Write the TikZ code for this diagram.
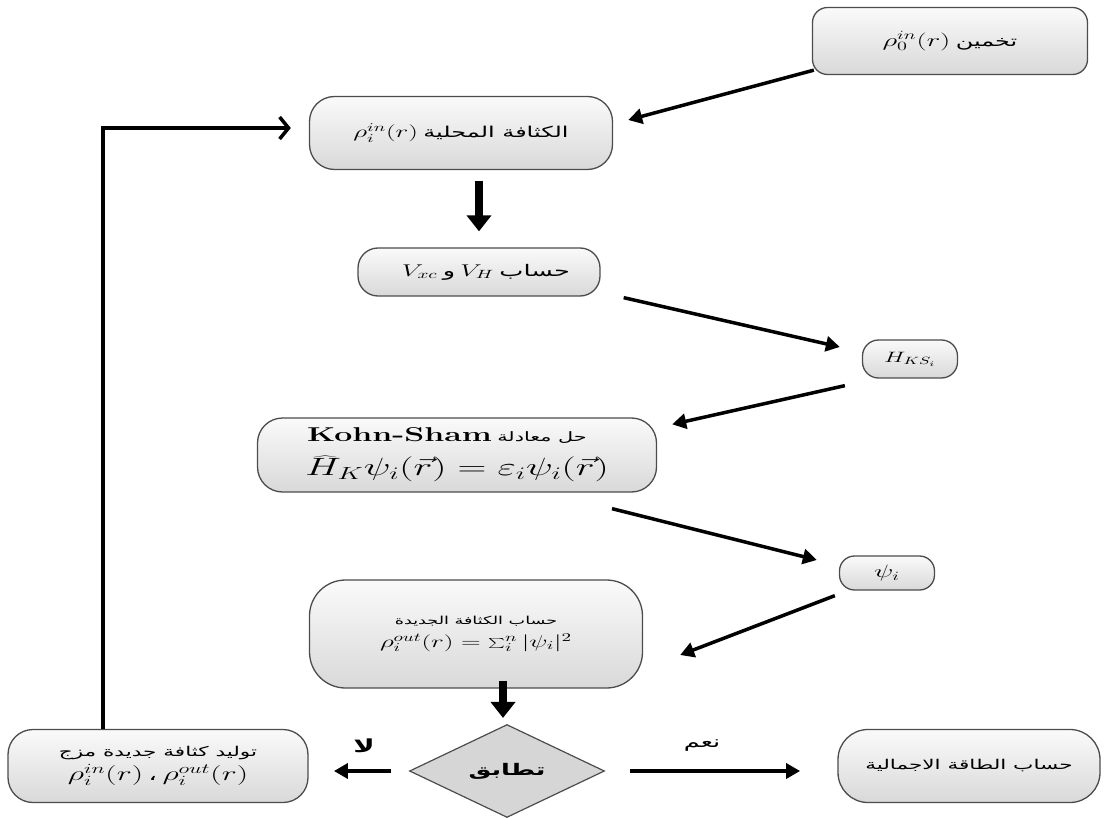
\RequirePackage{fix-cm}
\documentclass[tikz,border=0pt]{standalone}
\usepackage{fontspec}
\usepackage{graphicx}
\usetikzlibrary{shapes.geometric,arrows.meta,calc}
\TeXXeTstate=1
\newfontfamily\arabicfont[Script=Arabic]{DejaVu Sans}
\newfontfamily\arabicbold[Script=Arabic]{DejaVu Sans Bold}
\newcommand{\arf}[1]{\fontsize{#1}{#1}\arabicfont}
\newcommand{\mth}[2]{{\fontsize{#1}{#1}\selectfont$#2$}}
\newcommand{\xs}[1]{\scalebox{1.6}[1]{#1}}
\tikzset{
  box/.style={draw=gray!60!black, line width=1.3pt, top color=gray!4, bottom color=gray!30,
    align=center, inner sep=0pt},
  arr/.style={line width=3.5pt, -{Triangle[length=14pt,width=15pt]}},
  bigarr/.style={line width=8pt, -{Triangle[length=16pt,width=24pt]}},
  lbl/.style={inner sep=1pt}
}
\begin{document}
\begin{tikzpicture}[x=1pt,y=-1pt]
\useasboundingbox (0,0) rectangle (1113,818);
% nodes
\node[box, rounded corners=15pt, minimum width=275pt, minimum height=67pt] (g) at (950,41)
  {\xs{\mth{18}{\rho_0^{in}(r)} {\arf{15}\beginR تخمين\endR}}};
\node[box, rounded corners=25pt, minimum width=303pt, minimum height=73pt] (ld) at (461,133)
  {\xs{\mth{17}{\rho_i^{in}(r)} {\arf{15}\beginR الكثافة المحلية\endR}}};
\node[box, rounded corners=20pt, minimum width=242pt, minimum height=48pt] (vh) at (479,272)
  {\hspace*{14pt}\xs{\mth{17}{V_{xc}} {\arf{16}\beginR و\endR} \mth{17}{V_H} {\arf{16}\beginR حساب\endR}}};
\node[box, rounded corners=16pt, minimum width=95pt, minimum height=38pt] (hks) at (910,359)
  {\xs{\mth{15}{H_{KS_i}}}};
\node[box, rounded corners=25pt, minimum width=399pt, minimum height=74pt] (ks) at (457,455)
  {\hspace*{-20pt}\xs{{\fontsize{20}{22}\selectfont\bfseries Kohn-Sham} {\arf{13}\beginR حل معادلة\endR}}\\[11pt]
   \xs{\mth{25}{\widehat{H}_K\psi_i(\vec{r})=\varepsilon_i\psi_i(\vec{r})}}};
\node[box, rounded corners=15pt, minimum width=95pt, minimum height=34pt] (psi) at (887,573)
  {\xs{\mth{18}{\psi_i}}};
\node[box, rounded corners=36pt, minimum width=333pt, minimum height=108pt] (nd) at (476,634)
  {\xs{\arf{11}\beginR حساب الكثافة الجديدة\endR}\\[6pt]
   \xs{\mth{17}{\rho_i^{out}(r)=\sum_i^n|\psi_i|^2}}};
\node[diamond, draw=gray!60!black, line width=1.2pt, fill=gray!32, minimum width=195pt,
  minimum height=77pt, inner sep=0pt] (dm) at (507,771)
  {\xs{\arabicbold\fontsize{16}{18}\selectfont\beginR تطابق\endR}};
\node[box, rounded corners=25pt, minimum width=300pt, minimum height=73pt] (mix) at (158,766)
  {\xs{\arf{13.5}\beginR توليد كثافة جديدة مزج\endR}\\[3pt]
   \xs{\mth{20}{\rho_i^{in}(r)} {\arf{17}،} \mth{20}{\rho_i^{out}(r)}}};
\node[box, rounded corners=30pt, minimum width=262pt, minimum height=73pt] (te) at (969,766)
  {\xs{\arf{13.5}\beginR حساب الطاقة الاجمالية\endR}};
% labels
\node[lbl] (no) at (364,746) {\xs{\arabicbold\fontsize{18}{20}\selectfont\beginR لا\endR}};
\node[lbl] (yes) at (702,746) {\xs{\arabicfont\fontsize{16}{18}\selectfont\beginR نعم\endR}};
% connectors
\draw[arr] ($(g.south west)+(2,-5)$) -- ($(ld.east)+(15,-13)$);
\draw[bigarr] ($(vh.north)+(0,-66)$) -- ($(vh.north)+(0,-16)$);
\draw[arr] ($(vh.south east)+(23,1)$) -- ($(hks.west)+(-22,-12)$);
\draw[arr] ($(hks.south west)+(-17,7)$) -- ($(ks.north east)+(15,7)$);
\draw[arr] ($(ks.south)+(155,16)$) -- ($(psi.west)+(-22,-13)$);
\draw[arr] ($(psi.south west)+(-4,5)$) -- ($(nd.east)+(37,21)$);
\draw[bigarr] ($(dm.north)+(-4,-43)$) -- ($(dm.north)+(-4,-6)$);
\draw[arr] ($(dm.west)+(-18,0)$) -- ($(dm.west)+(-75,0)$);
\draw[arr] ($(dm.east)+(25,0)$) -- ($(dm.east)+(195,0)$);
\draw[line width=3.5pt, -{Straight Barb[length=9pt,width=22pt]}]
  ($(mix.north)+(-55,0)$) |- ($(ld.west)+(-18,-5)$);
\end{tikzpicture}
\end{document}
